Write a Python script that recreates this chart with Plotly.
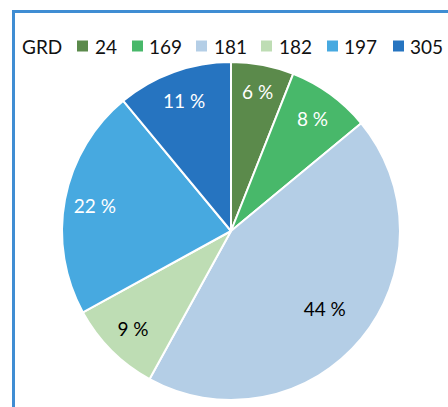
import plotly.graph_objects as go

labels = ["24", "169", "181", "182", "197", "305"]
values = [6, 8, 44, 9, 22, 11]
colors = ["#5B8A4B", "#48B86A", "#B4CEE6", "#BEDDB4", "#47A9E0", "#2674C0"]
text_colors = ["white", "white", "black", "black", "white", "white"]
legend_title = "GRD"

W, H = 448, 407
cx, cy, r = 231, 231, 169
FONT = "Lato"
dom = dict(x=[(cx - r) / W, (cx + r) / W], y=[(H - cy - r) / H, (H - cy + r) / H])

fig = go.Figure()
# filled pie
fig.add_trace(go.Pie(
    labels=labels, values=values,
    textinfo="none",
    marker=dict(colors=colors, line=dict(color="white", width=2)),
    sort=False, direction="clockwise", rotation=0,
    hoverinfo="label+percent",
    domain=dom, showlegend=False,
))

# transparent rings carrying the percentage labels (largest slice label sits further in)
big = values.index(max(values))
pct = [f"{v} %" for v in values]
for hole, keep in ((0.64, lambda i: i != big), (0.44, lambda i: i == big)):
    fig.add_trace(go.Pie(
        labels=labels, values=values,
        text=[t if keep(i) else "" for i, t in enumerate(pct)],
        textinfo="text", textposition="inside",
        insidetextorientation="horizontal",
        insidetextfont=dict(color=text_colors, size=19, family=FONT),
        marker=dict(colors=["rgba(0,0,0,0)"] * len(values), line=dict(width=0)),
        hole=hole,
        sort=False, direction="clockwise", rotation=0,
        hoverinfo="skip",
        domain=dom, showlegend=False,
    ))

# legend (swatches + texts)
swatch_x = [77, 132, 196, 261, 327, 393]
text_x = [93, 147, 212, 277, 342, 408]
ly = 46
shapes = []
annotations = [dict(text=legend_title, x=20 / W, y=1 - ly / H, xref="paper", yref="paper",
                    xanchor="left", yanchor="middle", showarrow=False,
                    font=dict(size=19, family=FONT, color="#111111"))]
for lab, col, sx, tx in zip(labels, colors, swatch_x, text_x):
    shapes.append(dict(type="rect", xref="paper", yref="paper",
                       x0=sx / W, x1=(sx + 11) / W, y0=1 - (ly + 5.5) / H, y1=1 - (ly - 5.5) / H,
                       line=dict(width=0), fillcolor=col))
    annotations.append(dict(text=lab, x=tx / W, y=1 - ly / H, xref="paper", yref="paper",
                            xanchor="left", yanchor="middle", showarrow=False,
                            font=dict(size=19, family=FONT, color="#111111")))

# outer border of the chart area
shapes.append(dict(type="rect", xref="paper", yref="paper",
                   x0=13.5 / W, x1=1.2, y0=-0.2, y1=1 - 11.5 / H,
                   line=dict(color="#3F8DD3", width=3),
                   fillcolor="rgba(0,0,0,0)", layer="below"))

fig.update_layout(
    width=W, height=H,
    margin=dict(l=0, r=0, t=0, b=0),
    paper_bgcolor="white",
    font=dict(family=FONT, color="#111111"),
    showlegend=False,
    shapes=shapes,
    annotations=annotations,
)

fig.write_html("out.html", config={"displayModeBar": False},
               post_script="document.body.style.margin='0';")
